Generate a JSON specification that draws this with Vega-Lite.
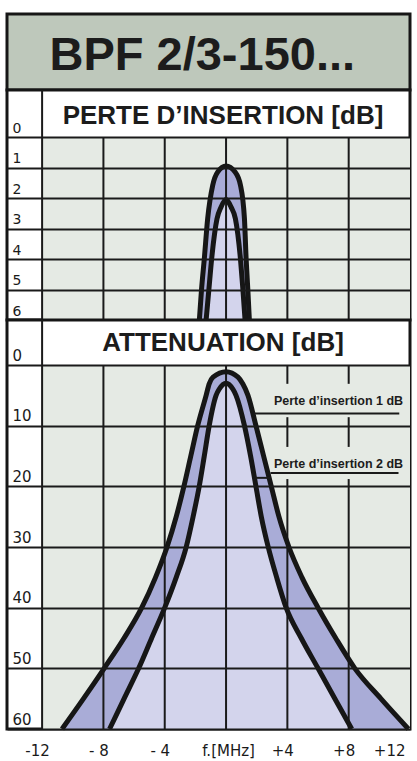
{
  "$schema": "https://vega.github.io/schema/vega-lite/v6.json",
  "padding": {"top": 12, "left": 5, "right": 4, "bottom": 0},
  "spacing": 0,
  "bounds": "flush",
  "config": {"view": {"stroke": "#161616", "strokeWidth": 3}, "font": "Liberation Sans", "axis": {"labelOverlap": false, "labelSeparation": 0}},
  "datasets": {
    "top": [
      {"curve": "1 dB", "f": -1.74, "loss": 6}, {"curve": "1 dB", "f": -1.6, "loss": 5}, {"curve": "1 dB", "f": -1.42, "loss": 4},
      {"curve": "1 dB", "f": -1.2, "loss": 2.68}, {"curve": "1 dB", "f": -0.87, "loss": 1.58}, {"curve": "1 dB", "f": -0.55, "loss": 1.15},
      {"curve": "1 dB", "f": 0, "loss": 0.95}, {"curve": "1 dB", "f": 0.59, "loss": 1.15}, {"curve": "1 dB", "f": 0.94, "loss": 1.58},
      {"curve": "1 dB", "f": 1.2, "loss": 2.68}, {"curve": "1 dB", "f": 1.31, "loss": 4}, {"curve": "1 dB", "f": 1.42, "loss": 5},
      {"curve": "1 dB", "f": 1.52, "loss": 6},
      {"curve": "2 dB", "f": -1.3, "loss": 6}, {"curve": "2 dB", "f": -1.12, "loss": 5}, {"curve": "2 dB", "f": -0.94, "loss": 4},
      {"curve": "2 dB", "f": -0.59, "loss": 2.68}, {"curve": "2 dB", "f": -0.33, "loss": 2.3}, {"curve": "2 dB", "f": 0, "loss": 2.05},
      {"curve": "2 dB", "f": 0.33, "loss": 2.3}, {"curve": "2 dB", "f": 0.61, "loss": 2.68}, {"curve": "2 dB", "f": 0.94, "loss": 4},
      {"curve": "2 dB", "f": 1.1, "loss": 5}, {"curve": "2 dB", "f": 1.24, "loss": 6}
    ],
    "bottom": [
      {"curve": "1 dB", "f": -10.7, "att": 60}, {"curve": "1 dB", "f": -9.3, "att": 55}, {"curve": "1 dB", "f": -7.95, "att": 50},
      {"curve": "1 dB", "f": -6.65, "att": 45}, {"curve": "1 dB", "f": -5.5, "att": 40}, {"curve": "1 dB", "f": -4.6, "att": 35},
      {"curve": "1 dB", "f": -3.85, "att": 30}, {"curve": "1 dB", "f": -3.25, "att": 25}, {"curve": "1 dB", "f": -2.75, "att": 20},
      {"curve": "1 dB", "f": -2.3, "att": 15}, {"curve": "1 dB", "f": -1.85, "att": 10}, {"curve": "1 dB", "f": -1.3, "att": 5},
      {"curve": "1 dB", "f": -1.1, "att": 3.1}, {"curve": "1 dB", "f": -0.85, "att": 2.0}, {"curve": "1 dB", "f": 0, "att": 1.1},
      {"curve": "1 dB", "f": 0.78, "att": 2.0}, {"curve": "1 dB", "f": 1.09, "att": 3.1}, {"curve": "1 dB", "f": 1.43, "att": 5},
      {"curve": "1 dB", "f": 1.95, "att": 10}, {"curve": "1 dB", "f": 2.45, "att": 15}, {"curve": "1 dB", "f": 2.95, "att": 20},
      {"curve": "1 dB", "f": 3.45, "att": 25}, {"curve": "1 dB", "f": 4.1, "att": 30}, {"curve": "1 dB", "f": 4.95, "att": 35},
      {"curve": "1 dB", "f": 6.0, "att": 40}, {"curve": "1 dB", "f": 7.15, "att": 45}, {"curve": "1 dB", "f": 8.4, "att": 50},
      {"curve": "1 dB", "f": 10.1, "att": 55}, {"curve": "1 dB", "f": 11.9, "att": 60},
      {"curve": "2 dB", "f": -7.6, "att": 60}, {"curve": "2 dB", "f": -6.65, "att": 55}, {"curve": "2 dB", "f": -5.7, "att": 50},
      {"curve": "2 dB", "f": -4.85, "att": 45}, {"curve": "2 dB", "f": -4.0, "att": 40}, {"curve": "2 dB", "f": -3.25, "att": 35},
      {"curve": "2 dB", "f": -2.6, "att": 30}, {"curve": "2 dB", "f": -2.15, "att": 25}, {"curve": "2 dB", "f": -1.75, "att": 20},
      {"curve": "2 dB", "f": -1.42, "att": 15}, {"curve": "2 dB", "f": -1.1, "att": 10}, {"curve": "2 dB", "f": -0.65, "att": 5},
      {"curve": "2 dB", "f": -0.45, "att": 4}, {"curve": "2 dB", "f": 0, "att": 3.0}, {"curve": "2 dB", "f": 0.45, "att": 4},
      {"curve": "2 dB", "f": 0.65, "att": 5}, {"curve": "2 dB", "f": 1.2, "att": 10}, {"curve": "2 dB", "f": 1.6, "att": 15},
      {"curve": "2 dB", "f": 1.95, "att": 20}, {"curve": "2 dB", "f": 2.3, "att": 25}, {"curve": "2 dB", "f": 2.75, "att": 30},
      {"curve": "2 dB", "f": 3.3, "att": 35}, {"curve": "2 dB", "f": 3.92, "att": 40}, {"curve": "2 dB", "f": 4.9, "att": 45},
      {"curve": "2 dB", "f": 6.0, "att": 50}, {"curve": "2 dB", "f": 7.1, "att": 55}, {"curve": "2 dB", "f": 8.2, "att": 60}
    ],
    "topgrid": [
      {"f": -12, "a": -1.541, "b": 6}, {"f": -8, "a": 0, "b": 6}, {"f": -4, "a": 0, "b": 6},
      {"f": 0, "a": 0, "b": 6}, {"f": 4, "a": 0, "b": 6}, {"f": 8, "a": 0, "b": 6}
    ],
    "bottomgrid": [
      {"f": -12, "a": -7.42, "b": 60}, {"f": -8, "a": 0, "b": 60}, {"f": -4, "a": 0, "b": 60}, {"f": 0, "a": 0, "b": 60},
      {"f": 4, "a": 0, "b": 3.1}, {"f": 4, "a": 8.6, "b": 13.5}, {"f": 4, "a": 18.8, "b": 60},
      {"f": 8, "a": 0, "b": 3.1}, {"f": 8, "a": 8.6, "b": 13.5}, {"f": 8, "a": 18.8, "b": 60}
    ],
    "leaders": [
      {"f1": 1.8, "f2": 11.3, "att": 8.0},
      {"f1": 1.9, "f2": 2.9, "att": 18.6},
      {"f1": 2.9, "f2": 11.25, "att": 17.8}
    ],
    "notes": [
      {"label": "Perte d’insertion 1 dB", "f": 11.55, "att": 6.0},
      {"label": "Perte d’insertion 2 dB", "f": 11.55, "att": 16.3}
    ]
  },
  "vconcat": [
    {
      "width": 403,
      "height": 76,
      "view": {"fill": "#bec8bb", "stroke": "#161616", "strokeWidth": 3},
      "data": {"values": [{"label": "BPF 2/3-150..."}]},
      "mark": {"type": "text", "fontSize": 47, "fontWeight": "bold", "font": "Liberation Sans", "color": "#1c1c1c", "baseline": "middle", "align": "center"},
      "encoding": {
        "text": {"field": "label", "type": "nominal"},
        "x": {"datum": -1.55, "type": "quantitative", "scale": {"domain": [-14.29, 12], "nice": false, "zero": false}, "axis": null},
        "y": {"datum": 0.45, "type": "quantitative", "scale": {"domain": [0, 1], "nice": false}, "axis": null}
      }
    },
    {
      "width": 403,
      "height": 230,
      "view": {"fill": "white", "stroke": "#161616", "strokeWidth": 3},
      "encoding": {
        "x": {"type": "quantitative", "scale": {"domain": [-14.29, 12], "nice": false, "zero": false}, "axis": null},
        "y": {"type": "quantitative",
          "scale": {"domain": [-1.541, 6], "reverse": true, "nice": false, "zero": false},
          "axis": {"values": [0, 1, 2, 3, 4, 5, 6], "title": null, "grid": true, "gridColor": "#1a1a1a", "gridWidth": 2, "gridOpacity": 1,
            "domain": false, "ticks": false, "tickSize": 0, "labelAlign": "left", "labelBaseline": "bottom", "labelPadding": -5,
            "labelOffset": -2, "labelFont": "DejaVu Sans", "labelFontSize": 14, "labelColor": "#1a1a1a", "labelFlush": false,
            "labelOverlap": false, "labelSeparation": 0, "zindex": 1}}
      },
      "layer": [
        {
          "data": {"values": [{"f0": -12, "f1": 12, "v0": 0, "v1": 6}]},
          "mark": {"type": "rect", "color": "#e5eae4"},
          "encoding": {
            "x": {"field": "f0"}, "x2": {"field": "f1"},
            "y": {"field": "v0"}, "y2": {"field": "v1"}
          }
        },
        {
          "data": {"name": "top"},
          "transform": [{"filter": "datum.curve == '1 dB'"}],
          "mark": {"type": "area", "interpolate": "monotone", "color": "#a9acd7"},
          "encoding": {"x": {"field": "f"}, "y": {"field": "loss"}, "y2": {"datum": 6}}
        },
        {
          "data": {"name": "top"},
          "transform": [{"filter": "datum.curve == '2 dB'"}],
          "mark": {"type": "area", "interpolate": "monotone", "color": "#d3d4ec"},
          "encoding": {"x": {"field": "f"}, "y": {"field": "loss"}, "y2": {"datum": 6}}
        },
        {
          "data": {"name": "topgrid"},
          "mark": {"type": "rule", "color": "#1a1a1a", "strokeWidth": 2},
          "encoding": {"x": {"field": "f"}, "y": {"field": "a"}, "y2": {"field": "b"}}
        },
        {
          "data": {"name": "top"},
          "mark": {"type": "line", "interpolate": "monotone", "color": "#161616", "strokeWidth": 5},
          "encoding": {"x": {"field": "f"}, "y": {"field": "loss"}, "detail": {"field": "curve", "type": "nominal"}}
        },
        {
          "data": {"values": [{"label": "PERTE D’INSERTION [dB]", "f": -0.2, "loss": -0.68}]},
          "mark": {"type": "text", "fontSize": 26, "fontWeight": "bold", "font": "Liberation Sans", "color": "#1c1c1c", "baseline": "middle", "align": "center"},
          "encoding": {"text": {"field": "label", "type": "nominal"}, "x": {"field": "f"}, "y": {"field": "loss"}}
        }
      ]
    },
    {
      "width": 403,
      "height": 409,
      "view": {"fill": "white", "stroke": "#161616", "strokeWidth": 3},
      "encoding": {
        "x": {"type": "quantitative", "scale": {"domain": [-14.29, 12], "nice": false, "zero": false},
          "axis": {"values": [-12, -8, -4, 0, 4, 8, 12], "title": null, "grid": false, "domain": false, "ticks": false, "tickSize": 0,
            "labelExpr": "datum.value == 0 ? 'f.[MHz]' : (datum.value > 0 ? '+' + datum.value : (datum.value == -12 ? '-12' : '- ' + (-datum.value)))",
            "labelPadding": 14,
            "labelOffset": {"condition": {"test": "datum.value == 0", "value": 2}, "value": -5},
            "labelAlign": {"condition": {"test": "datum.value == 12", "value": "right"}, "value": "center"},
            "labelFont": "DejaVu Sans", "labelFontSize": 15, "labelColor": "#1a1a1a",
            "labelFlush": false, "labelOverlap": false, "labelBound": false}},
        "y": {"type": "quantitative",
          "scale": {"domain": [-7.42, 60], "reverse": true, "nice": false, "zero": false},
          "axis": {"values": [0, 10, 20, 30, 40, 50, 60], "title": null, "grid": true, "gridColor": "#1a1a1a", "gridWidth": 2, "gridOpacity": 1,
            "domain": false, "ticks": false, "tickSize": 0, "labelAlign": "left", "labelBaseline": "bottom", "labelPadding": -5,
            "labelOffset": -2, "labelFont": "DejaVu Sans", "labelFontSize": 15, "labelColor": "#1a1a1a", "labelFlush": false,
            "labelOverlap": false, "zindex": 1}}
      },
      "layer": [
        {
          "data": {"values": [{"f0": -12, "f1": 12, "v0": 0, "v1": 60}]},
          "mark": {"type": "rect", "color": "#e5eae4"},
          "encoding": {"x": {"field": "f0"}, "x2": {"field": "f1"}, "y": {"field": "v0"}, "y2": {"field": "v1"}}
        },
        {
          "data": {"name": "bottom"},
          "transform": [{"filter": "datum.curve == '1 dB'"}],
          "mark": {"type": "area", "interpolate": "monotone", "color": "#a9acd7"},
          "encoding": {"x": {"field": "f"}, "y": {"field": "att"}, "y2": {"datum": 60}}
        },
        {
          "data": {"name": "bottom"},
          "transform": [{"filter": "datum.curve == '2 dB'"}],
          "mark": {"type": "area", "interpolate": "monotone", "color": "#d3d4ec"},
          "encoding": {"x": {"field": "f"}, "y": {"field": "att"}, "y2": {"datum": 60}}
        },
        {
          "data": {"name": "bottomgrid"},
          "mark": {"type": "rule", "color": "#1a1a1a", "strokeWidth": 2},
          "encoding": {"x": {"field": "f"}, "y": {"field": "a"}, "y2": {"field": "b"}}
        },
        {
          "data": {"name": "bottom"},
          "mark": {"type": "line", "interpolate": "monotone", "color": "#161616", "strokeWidth": 5},
          "encoding": {"x": {"field": "f"}, "y": {"field": "att"}, "detail": {"field": "curve", "type": "nominal"}}
        },
        {
          "data": {"name": "leaders"},
          "mark": {"type": "rule", "color": "#1a1a1a", "strokeWidth": 2},
          "encoding": {"x": {"field": "f1"}, "x2": {"field": "f2"}, "y": {"field": "att"}}
        },
        {
          "data": {"name": "notes"},
          "mark": {"type": "text", "fontSize": 12.5, "fontWeight": "bold", "font": "Liberation Sans", "color": "#1c1c1c", "baseline": "middle", "align": "right"},
          "encoding": {"text": {"field": "label", "type": "nominal"}, "x": {"field": "f"}, "y": {"field": "att"}}
        },
        {
          "data": {"values": [{"label": "ATTENUATION [dB]", "f": -0.2, "att": -3.7}]},
          "mark": {"type": "text", "fontSize": 26, "fontWeight": "bold", "font": "Liberation Sans", "color": "#1c1c1c", "baseline": "middle", "align": "center"},
          "encoding": {"text": {"field": "label", "type": "nominal"}, "x": {"field": "f"}, "y": {"field": "att"}}
        }
      ]
    }
  ]
}
